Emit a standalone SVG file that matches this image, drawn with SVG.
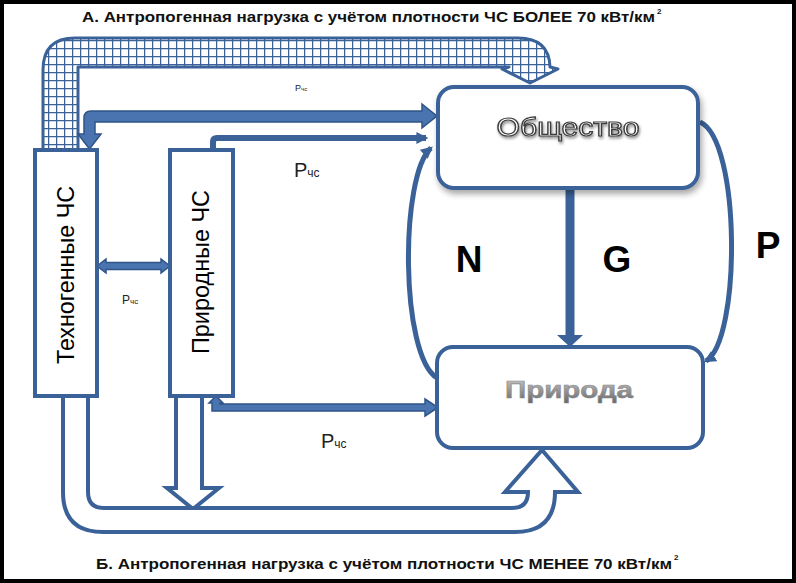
<svg xmlns="http://www.w3.org/2000/svg" width="796" height="583" viewBox="0 0 796 583">
<style>
.ttl{font-family:"Liberation Sans",Arial,sans-serif;font-weight:bold;font-size:14px;fill:#111}
.sup{font-family:"Liberation Sans",Arial,sans-serif;font-weight:bold;font-size:8px;fill:#111}
.box{fill:#fff;stroke:#3a6299;stroke-width:4}
.vt{font-family:"Liberation Sans",Arial,sans-serif;font-size:24px;fill:#000}
.ln{fill:none;stroke:#3a6299}
.sh{fill:#4a74b0;stroke:#2f5487;stroke-width:1.5}
.ho{fill:#fff;stroke:#3a6299;stroke-width:4;stroke-linejoin:miter}
.big{font-family:"Liberation Sans",Arial,sans-serif;font-weight:bold;font-size:37px;fill:#000;text-anchor:middle}
.p{font-family:"Liberation Sans",Arial,sans-serif;fill:#222}
</style>
<defs>
<pattern id="grid" width="8" height="8" patternUnits="userSpaceOnUse">
<rect width="8" height="8" fill="#fff"/>
<path d="M0 0H8M0 0V8" stroke="#3a6299" stroke-width="2.5"/>
</pattern>
<marker id="ah" viewBox="0 0 10 10" refX="8" refY="5" markerWidth="12" markerHeight="12" markerUnits="userSpaceOnUse" orient="auto">
<path d="M0 0L10 5L0 10z" fill="#3a6299"/>
</marker>
<filter id="shd" x="-10%" y="-10%" width="125%" height="135%">
<feDropShadow dx="2" dy="4" stdDeviation="3" flood-color="#000" flood-opacity="0.35"/>
</filter>
<filter id="tsh" x="-10%" y="-20%" width="125%" height="160%">
<feDropShadow dx="1" dy="2" stdDeviation="1.5" flood-color="#000" flood-opacity="0.45"/>
</filter>
<linearGradient id="gr" x1="0" y1="0" x2="0" y2="1">
<stop offset="0" stop-color="#cfcfcf"/>
<stop offset="0.5" stop-color="#9a9a9a"/>
<stop offset="1" stop-color="#666"/>
</linearGradient>
</defs>
<rect x="0" y="0" width="796" height="583" fill="#fff"/>
<rect x="2" y="2" width="792" height="579" fill="none" stroke="#000" stroke-width="4"/>

<g id="titles">
<text class="ttl" x="82" y="22" textLength="573" lengthAdjust="spacingAndGlyphs">А. Антропогенная нагрузка с учётом плотности ЧС БОЛЕЕ 70 кВт/км</text>
<text class="sup" x="657" y="14">2</text>
<text class="ttl" x="96" y="569" textLength="576" lengthAdjust="spacingAndGlyphs">Б. Антропогенная нагрузка с учётом плотности ЧС МЕНЕЕ 70 кВт/км</text>
<text class="sup" x="674" y="560">2</text>
</g>

<g id="connectors">
<path d="M43 150V70Q43 38 75 38H518Q549 38 550 67L558 69L530 83L502 69L509 67H78V150Z" fill="url(#grid)" stroke="#3a6299" stroke-width="3" stroke-linejoin="round"/>
<path class="sh" d="M437 116L422 104V111H91Q84 111 84 118V134H78L89.5 149L101 134H95V122H422V128Z"/>
<path class="ln" d="M213 150V142Q213 138 217 138H426" stroke-width="6" marker-end="url(#ah)"/>
<path class="sh" d="M97 266L106 259V262.5H161V259L170 266L161 273V269.5H106V273Z"/>
<path class="sh" d="M216 396L223 403H220V404H425V399L438 407.5L425 416V411H212V403H209Z"/>
<path class="ho" d="M176 397V488H167L193 509L219 488H202V397"/>
<path class="ho" d="M63 397V492Q63 532 103 532H515Q555 532 555 492H578L542 450L505 492H528Q528 508 512 508H104Q88 508 88 492V397"/>
<line class="ln" x1="570" y1="190" x2="570" y2="336" stroke-width="9"/>
<path d="M557 335H583L570 347Z" fill="#3a6299"/>
<path class="ln" d="M437 378C400 355 400 175 431 148" stroke-width="5" marker-end="url(#ah)"/>
<path class="ln" d="M700 122C741 140 741 340 706 361" stroke-width="5" marker-end="url(#ah)"/>
</g>

<g id="tech">
<rect class="box" x="35" y="150" width="62" height="246"/>
<text class="vt" transform="translate(74 364) rotate(-90)" textLength="178" lengthAdjust="spacingAndGlyphs">Техногенные ЧС</text>
</g>
<g id="natural-es">
<rect class="box" x="170" y="150" width="63" height="246"/>
<text class="vt" transform="translate(209 354) rotate(-90)" textLength="164" lengthAdjust="spacingAndGlyphs">Природные ЧС</text>
</g>
<g id="society">
<rect class="box" x="438" y="87" width="260" height="101" rx="16" filter="url(#shd)"/>
<text x="568" y="136" text-anchor="middle" font-family="'Liberation Sans',Arial,sans-serif" font-size="25" fill="#fff" stroke="#3c3c3c" stroke-width="1.2" textLength="143" lengthAdjust="spacingAndGlyphs" filter="url(#tsh)">Общество</text>
</g>
<g id="nature">
<rect class="box" x="437" y="347" width="266" height="101" rx="16"/>
<text x="569" y="398" text-anchor="middle" font-family="'Liberation Sans',Arial,sans-serif" font-weight="bold" font-size="24" fill="url(#gr)" stroke="#8a8a8a" stroke-width="0.6" textLength="128" lengthAdjust="spacingAndGlyphs">Природа</text>
</g>

<g id="labels">
<text class="big" x="469" y="272">N</text>
<text class="big" x="617" y="272">G</text>
<text class="big" x="768" y="258">P</text>
<text class="p" x="295" y="91" font-size="9" fill="#555">Р<tspan font-size="6">чс</tspan></text>
<text class="p" x="294" y="177" font-size="20">Р<tspan font-size="12">чс</tspan></text>
<text class="p" x="122" y="304" font-size="12">Р<tspan font-size="8">чс</tspan></text>
<text class="p" x="321" y="448" font-size="20">Р<tspan font-size="12">чс</tspan></text>
</g>
</svg>
